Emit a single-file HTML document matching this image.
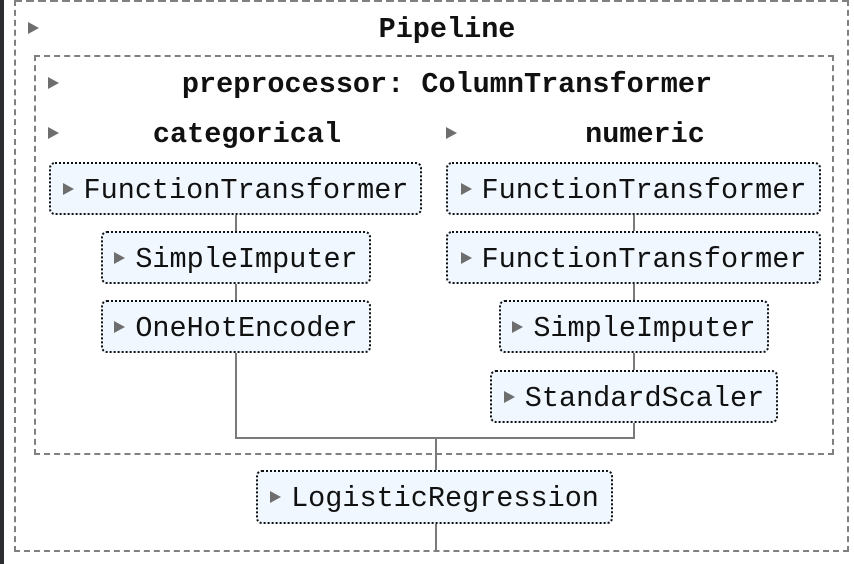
<!DOCTYPE html>
<html><head><style>
html,body{margin:0;padding:0;width:854px;height:564px;background:#fff;overflow:hidden;position:relative;font-family:"Liberation Mono",monospace;}
.strip{position:absolute;left:0;top:0;width:4px;height:564px;background:#2b2d31;}
.dash{position:absolute;border:2px dashed #808080;box-sizing:border-box;}
.line{position:absolute;background:#7a7a7a;}
.box{position:absolute;box-sizing:border-box;border:2px dotted #111;border-radius:6px;background:#f0f7ff;display:flex;align-items:center;justify-content:center;font-size:28.5px;color:#111;white-space:nowrap;padding-top:3px;}
.tri{display:inline-block;width:0;height:0;border-top:6px solid transparent;border-bottom:6px solid transparent;border-left:11px solid #6e6e6e;margin-right:10px;margin-top:-3px;}
.hd{position:absolute;font-weight:bold;font-size:28.5px;color:#111;white-space:nowrap;transform:translateX(-50%);line-height:32px;}
.ht{position:absolute;width:0;height:0;border-top:6px solid transparent;border-bottom:6px solid transparent;border-left:11px solid #6e6e6e;}
</style></head><body>
<div class="strip"></div>
<div class="dash" style="left:14px;top:0;width:835px;height:552px;border-top:none"></div>
<div style="position:absolute;left:14px;top:0;width:835px;height:2px;background:repeating-linear-gradient(90deg,#808080 0 8px,transparent 8px 12px)"></div>
<div class="ht" style="left:28px;top:22px"></div>
<div class="hd" style="left:447px;top:14px">Pipeline</div>
<div class="dash" style="left:34px;top:55px;width:800px;height:400px"></div>
<div class="ht" style="left:48px;top:77px"></div>
<div class="hd" style="left:447px;top:69px">preprocessor: ColumnTransformer</div>
<div class="ht" style="left:48px;top:127px"></div>
<div class="hd" style="left:247px;top:119px">categorical</div>
<div class="ht" style="left:446px;top:127px"></div>
<div class="hd" style="left:645px;top:119px">numeric</div>

<div class="line" style="left:235px;top:214px;width:2px;height:225px"></div>
<div class="line" style="left:633px;top:214px;width:2px;height:225px"></div>
<div class="line" style="left:235px;top:437px;width:400px;height:2px"></div>
<div class="line" style="left:435px;top:437px;width:2px;height:113px"></div>

<div class="box" style="left:49px;top:162px;width:373px;height:53px"><span class="tri"></span>FunctionTransformer</div>
<div class="box" style="left:101px;top:231px;width:270px;height:53px"><span class="tri"></span>SimpleImputer</div>
<div class="box" style="left:101px;top:300px;width:270px;height:53px"><span class="tri"></span>OneHotEncoder</div>

<div class="box" style="left:446px;top:162px;width:375px;height:53px"><span class="tri"></span>FunctionTransformer</div>
<div class="box" style="left:446px;top:231px;width:375px;height:53px"><span class="tri"></span>FunctionTransformer</div>
<div class="box" style="left:499px;top:300px;width:270px;height:53px"><span class="tri"></span>SimpleImputer</div>
<div class="box" style="left:490px;top:370px;width:288px;height:53px"><span class="tri"></span>StandardScaler</div>

<div class="box" style="left:256px;top:470px;width:357px;height:54px"><span class="tri"></span>LogisticRegression</div>
</body></html>
